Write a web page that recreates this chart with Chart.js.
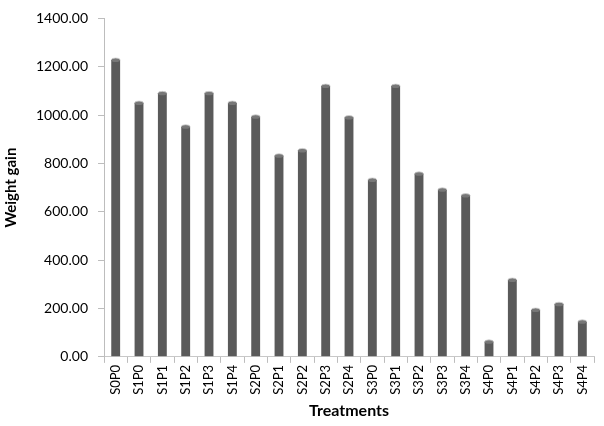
<!DOCTYPE html>
<html>
<head>
<meta charset="utf-8">
<script src="https://cdn.jsdelivr.net/npm/chart.js@4.4.1/dist/chart.umd.min.js"></script>
<style>
  body { margin: 0; background: #fff; }
  #wrap { width: 604px; height: 426px; }
</style>
</head>
<body>
<div id="wrap"><canvas id="gainChart"></canvas></div>
<script>
// treatments and weight gain
const treatments = ['S0P0', 'S1P0', 'S1P1', 'S1P2', 'S1P3', 'S1P4', 'S2P0', 'S2P1', 'S2P2', 'S2P3', 'S2P4',
  'S3P0', 'S3P1', 'S3P2', 'S3P3', 'S3P4', 'S4P0', 'S4P1', 'S4P2', 'S4P3', 'S4P4'];
const weightGain = [1228, 1050, 1090, 952, 1090, 1050, 993, 832, 854, 1120, 990,
  732, 1120, 757, 691, 667, 62, 318, 194, 218, 145];
const yTicks = [0, 200, 400, 600, 800, 1000, 1200, 1400];

const fontFamily = 'Lato, "Open Sans", sans-serif';

// cylinder look: horizontal gradient across each bar
function barFill(ctx) {
  const el = ctx.element;
  if (!el || el.width === undefined) return '#5a5a5a';
  const c = ctx.chart.ctx;
  const x0 = el.x - el.width / 2, x1 = el.x + el.width / 2;
  const g = c.createLinearGradient(x0, 0, x1, 0);
  g.addColorStop(0, '#3e3e3e');
  g.addColorStop(0.45, '#6a6a6a');
  g.addColorStop(1, '#444444');
  return g;
}

// top cap of the cylinders
const capPlugin = {
  id: 'caps',
  afterDatasetsDraw(chart) {
    const c = chart.ctx;
    chart.getDatasetMeta(0).data.forEach(bar => {
      c.save();
      c.beginPath();
      c.ellipse(bar.x, bar.y, bar.width / 2, 2, 0, 0, Math.PI * 2);
      c.fillStyle = '#777';
      c.fill();
      c.strokeStyle = '#d0d0d0';
      c.lineWidth = 0.8;
      c.beginPath();
      c.ellipse(bar.x, bar.y, bar.width / 2, 2, 0, Math.PI, Math.PI * 2);
      c.stroke();
      c.restore();
    });
  }
};

const ctx = document.getElementById('gainChart').getContext('2d');
new Chart(ctx, {
  type: 'bar',
  data: {
    labels: treatments,
    datasets: [{
      label: 'Weight gain',
      data: weightGain,
      backgroundColor: barFill,
      borderWidth: 0,
      barPercentage: 0.38,
      categoryPercentage: 1
    }]
  },
  options: {
    responsive: true,
    maintainAspectRatio: false,
    animation: false,
    layout: { padding: { top: 0, right: 10, left: 0, bottom: 6 } },
    plugins: {
      legend: { display: false },
      tooltip: { enabled: false }
    },
    scales: {
      x: {
        offset: true,
        grid: { drawOnChartArea: false, offset: true, tickLength: 6, color: '#bdbdbd' },
        border: { color: '#c8c8c8', width: 1 },
        ticks: {
          minRotation: 90, maxRotation: 90, autoSkip: false,
          color: '#000', padding: 2,
          font: { family: fontFamily, size: 13 }
        },
        title: {
          display: true, text: 'Treatments', color: '#000',
          font: { family: fontFamily, size: 16, weight: 'bold' },
          padding: { top: 4, bottom: 0 }
        }
      },
      y: {
        min: 0, max: 1400,
        afterBuildTicks(axis) { axis.ticks = yTicks.map(v => ({ value: v })); },
        grid: { drawOnChartArea: false, tickLength: 6, color: '#bdbdbd' },
        border: { color: '#bdbdbd', width: 1 },
        ticks: {
          color: '#000', padding: 10,
          font: { family: fontFamily, size: 14 },
          callback: v => Number(v).toFixed(2)
        },
        title: {
          display: true, text: 'Weight gain', color: '#000',
          font: { family: fontFamily, size: 15, weight: 'bold' },
          padding: { top: 2, bottom: 6 }
        }
      }
    }
  },
  plugins: [capPlugin]
});
</script>
</body>
</html>
